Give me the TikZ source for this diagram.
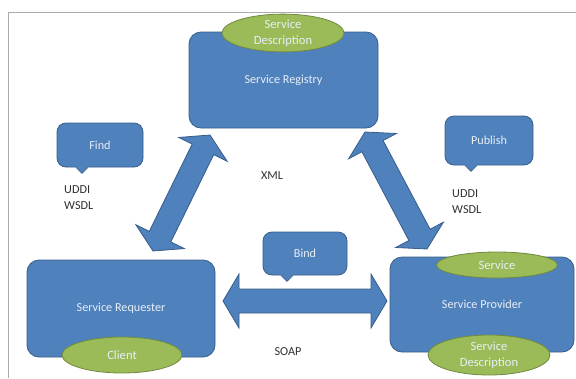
\documentclass[tikz,border=0pt]{standalone}
\usepackage{fontspec}
\setmainfont{Carlito}
\usetikzlibrary{shapes.geometric,calc}
\definecolor{boxblue}{HTML}{4F81BD}
\definecolor{boxedge}{HTML}{385D8A}
\definecolor{elgreen}{HTML}{9BBB59}
\definecolor{eledge}{HTML}{71893F}
\definecolor{boxtext}{HTML}{E8EEF6}
\definecolor{lbltext}{HTML}{303030}
\newcommand\dblblock[2]{%
  \filldraw[arrowbody]
    (#1) -- ($(#1)!16pt!(#2)!27pt!90:(#2)$) -- ($(#1)!16pt!(#2)!12pt!90:(#2)$)
    -- ($(#2)!16pt!(#1)!12pt!-90:(#1)$) -- ($(#2)!16pt!(#1)!27pt!-90:(#1)$)
    -- (#2) -- ($(#2)!16pt!(#1)!27pt!90:(#1)$) -- ($(#2)!16pt!(#1)!12pt!90:(#1)$)
    -- ($(#1)!16pt!(#2)!12pt!-90:(#2)$) -- ($(#1)!16pt!(#2)!27pt!-90:(#2)$) -- cycle;}
\newcommand\calloutptr[1]{%
  \fill[boxblue] ($(#1.south)+(-24.5,-1.2)$) -- ($(#1.south)+(-18,6)$) -- ($(#1.south)+(-11.5,-1.2)$) -- cycle;
  \draw[boxedge,line width=0.8pt,line join=round] ($(#1.south)+(-24,0)$) -- ($(#1.south)+(-18,6)$) -- ($(#1.south)+(-12,0)$);}
\begin{document}
\begin{tikzpicture}[x=1pt,y=-1pt,
  arrowbody/.style={fill=boxblue,draw=boxedge,line width=0.8pt,line join=miter},
  bigbox/.style={rectangle,rounded corners=12pt,fill=boxblue,draw=boxedge,line width=0.8pt,
     text=boxtext,font=\fontsize{12.2}{14}\selectfont,inner sep=0pt},
  callbox/.style={rectangle,rounded corners=9pt,fill=boxblue,draw=boxedge,line width=0.8pt,
     text=boxtext,font=\fontsize{12.2}{14}\selectfont,inner sep=0pt},
  oval/.style={ellipse,fill=elgreen,draw=eledge,line width=0.8pt,text=boxtext,inner sep=0pt,
     align=center,font=\fontsize{12.6}{16}\selectfont},
  lbl/.style={text=lbltext,font=\fontsize{12.2}{16}\selectfont,inner sep=0pt,align=left}]
\useasboundingbox (0,0) rectangle (576,378);
% frame
\draw[gray!65,line width=0.9pt] (8,378) -- (8,12) -- (576,12);
% arrow end points
\coordinate (lt) at (210,135);
\coordinate (lb) at (153,251);
\coordinate (rt) at (365,132);
\coordinate (rb) at (427,249);
\coordinate (hl) at (223,301);
\coordinate (hr) at (387,301);
\dblblock{lt}{lb}
\dblblock{rt}{rb}
\dblblock{hl}{hr}
% main boxes
\node[bigbox,minimum width=189pt,minimum height=96pt] (reg) at (283.5,80) {Service Registry};
\node[bigbox,minimum width=188pt,minimum height=97pt] (req) at (121,308.5) {Service Requester};
\node[bigbox,minimum width=184pt,minimum height=95pt] (prov) at (482,304.5) {Service Provider};
% ovals
\node[oval,minimum width=122pt,minimum height=32pt] (regdesc) at (283,33) {Service\\Description};
\node[oval,minimum width=120pt,minimum height=36pt] (client) at (122,355) {Client};
\node[oval,minimum width=121pt,minimum height=26pt] (serv) at (497,265) {Service};
\node[oval,minimum width=122pt,minimum height=40pt] (provdesc) at (489,355) {Service\\Description};
% callouts
\node[callbox,minimum width=86pt,minimum height=44pt] (find) at (100,145) {Find};
\node[callbox,minimum width=88pt,minimum height=49pt] (publish) at (489,140.5) {Publish};
\node[callbox,minimum width=84pt,minimum height=43pt] (bind) at (305,253.5) {Bind};
\calloutptr{find}
\calloutptr{publish}
\calloutptr{bind}
% labels
\node[lbl,anchor=west] (l1) at (64,198) {UDDI\\WSDL};
\node[lbl,anchor=west] (l2) at (452,202) {UDDI\\WSDL};
\node[lbl] (xml) at (272,176) {XML};
\node[lbl] (soap) at (288,352) {SOAP};
\end{tikzpicture}
\end{document}
